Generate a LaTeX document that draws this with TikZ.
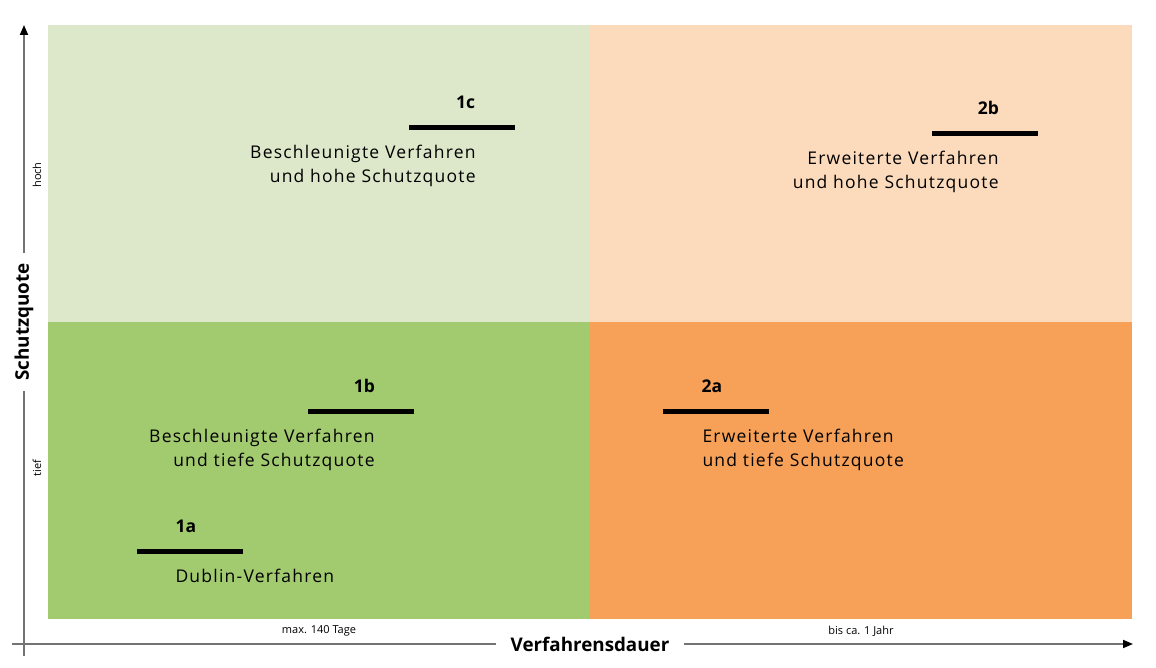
\documentclass[tikz,border=0pt]{standalone}
\usepackage{fontspec}
\setmainfont{Open Sans}
\newfontfamily\descfont[LetterSpace=7]{Open Sans}
\usetikzlibrary{positioning,arrows.meta}
\definecolor{greenhoch}{HTML}{DDE7C9}
\definecolor{greentief}{HTML}{A2CA6E}
\definecolor{orangehoch}{HTML}{FCDBBC}
\definecolor{orangetief}{HTML}{F6A058}
\begin{document}
\begin{tikzpicture}[x=1pt,y=1pt]
	\tikzstyle{bar}=[fill=black,minimum width=106pt,minimum height=5pt,inner sep=0pt]
	\tikzstyle{tag}=[font=\fontsize{17.5}{24}\selectfont\bfseries,inner sep=0pt]
	\tikzstyle{desc}=[font=\fontsize{17.5}{24}\selectfont\descfont,inner sep=0pt]
	\tikzstyle{small}=[font=\fontsize{11}{13}\selectfont,inner sep=0pt]
	\tikzstyle{axisname}=[font=\fontsize{18.8}{24}\selectfont\bfseries,inner sep=0pt]
	\tikzstyle{axis}=[draw=black!55,line width=1.8pt]
	\useasboundingbox (0,0) rectangle (1156,668);
	% quadrants
	\fill[greenhoch] (48,346) rectangle (590,643);
	\fill[orangehoch] (590,346) rectangle (1132,643);
	\fill[greentief] (48,49) rectangle (590,346);
	\fill[orangetief] (590,49) rectangle (1132,346);
	% bars and their tags
	\foreach \n/\x/\y/\s in {1a/189.5/116/-3.5, 1b/361/256/3.5, 1c/462/540/3.5, 2a/715.5/256/-3.5, 2b/985/534/3.5}{
		\node[bar] (b\n) at (\x,\y) {};
		\node[tag, above=16pt of b\n, xshift=\s pt] (t\n) {\n};
	}
	\node[desc,align=right,anchor=north east] (d1c) at ([xshift=67pt,yshift=-17pt]b1c.west) {Beschleunigte Verfahren\\und hohe Schutzquote};
	\node[desc,align=right,anchor=north east] (d2b) at ([xshift=67pt,yshift=-17pt]b2b.west) {Erweiterte Verfahren\\und hohe Schutzquote};
	\node[desc,align=right,anchor=north east] (d1b) at ([xshift=67pt,yshift=-17pt]b1b.west) {Beschleunigte Verfahren\\und tiefe Schutzquote};
	\node[desc,align=left,anchor=north west] (d2a) at ([xshift=40pt,yshift=-17pt]b2a.west) {Erweiterte Verfahren\\und tiefe Schutzquote};
	\node[desc,anchor=north west] (d1a) at ([xshift=39pt,yshift=-17pt]b1a.west) {Dublin-Verfahren};
	% axes
	\coordinate (ybot) at (24,12);
	\coordinate (ytop) at (24,643);
	\coordinate (xleft) at (12,24);
	\coordinate (xright) at (1133,24);
	\node[axisname,rotate=90,inner xsep=10pt] (yname) at (24,346) {Schutzquote};
	\node[axisname,inner xsep=14pt] (xname) at (590,24) {Verfahrensdauer};
	\draw[axis] (ybot) -- (yname.west);
	\draw[axis,-{Triangle[length=10pt,width=8pt,color=black]}] (yname.east) -- (ytop);
	\draw[axis] (xleft) -- (xname.west);
	\draw[axis,-{Triangle[length=10pt,width=8pt,color=black]}] (xname.east) -- (xright);
	\node[small,rotate=90] (hoch) at (37,493) {hoch};
	\node[small,rotate=90] (tief) at (37,200) {tief};
	\node[small] (kurz) at (319,37) {max. 140 Tage};
	\node[small] (lang) at (861,37) {bis ca. 1 Jahr};
\end{tikzpicture}
\end{document}
